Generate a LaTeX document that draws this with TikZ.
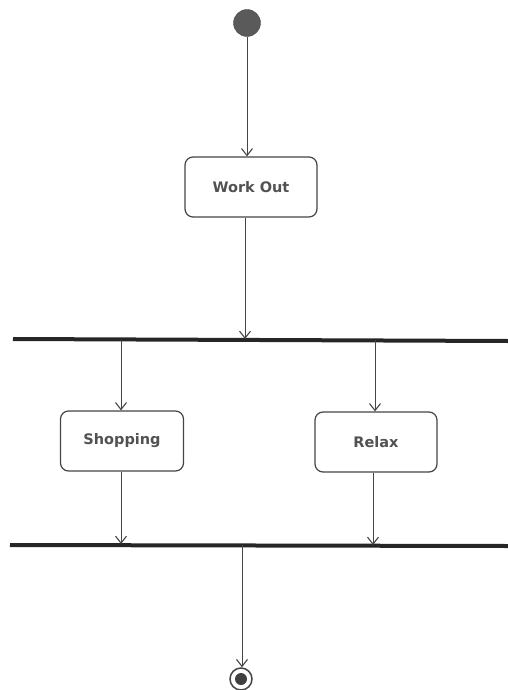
\documentclass[tikz,border=0pt]{standalone}
\usepackage{fontspec}
\setmainfont{DejaVu Sans}
\usetikzlibrary{arrows.meta}
\definecolor{ink}{HTML}{454545}
\definecolor{startfill}{HTML}{5A5A5A}
\begin{document}
\begin{tikzpicture}[x=1pt,y=-1pt,
  action/.style={draw=ink,line width=1.2pt,rounded corners=8pt,fill=white,
    minimum width=#1,minimum height=60pt,inner sep=0pt,
    font=\fontsize{14.5}{18}\selectfont\bfseries,text=black!68},
  action/.default=130pt,
  flow/.style={draw=ink,line width=1pt,-{Straight Barb[length=7pt,width=11pt,line width=1.1pt]}},
  bar/.style={draw=black!85,line width=4pt},
]
\useasboundingbox (0,0) rectangle (508,690);

% initial and final states
\node[circle,fill=startfill,draw=startfill!80!black,minimum size=27pt,inner sep=0pt] (start) at (247,23) {};
\node[circle,draw=ink,line width=1.5pt,minimum size=22pt,inner sep=0pt] (finish) at (241,679) {};
\fill[black!75] (finish.center) circle (6pt);

% actions
\node[action=132pt] (work) at (251,187) {Work Out};
\node[action=123pt] (shop) at (122,441) {Shopping};
\node[action=122pt] (relax) at (376,442) {Relax};

% fork and join bars
\coordinate (forkL) at (13,339);
\coordinate (forkR) at (508,341);
\coordinate (joinL) at (10,545);
\coordinate (joinR) at (508,546);
\draw[bar] (forkL) -- (forkR);
\draw[bar] (joinL) -- (joinR);

% attachment points on the bars
\coordinate (forkIn) at (245,339);
\coordinate (forkA) at (121,340);
\coordinate (forkB) at (375,340);
\coordinate (joinA) at (121,544);
\coordinate (joinB) at (373,545);
\coordinate (joinOut) at (242,545);

% flows
\draw[flow] (start) -- (work.north -| start);
\draw[flow] (work.south -| forkIn) -- (forkIn);
\draw[flow] (forkA) -- (shop.north -| forkA);
\draw[flow] (forkB) -- (relax.north -| forkB);
\draw[flow] (shop.south -| joinA) -- (joinA);
\draw[flow] (relax.south -| joinB) -- (joinB);
\draw[flow] (joinOut) -- (finish.north -| joinOut);
\end{tikzpicture}
\end{document}
